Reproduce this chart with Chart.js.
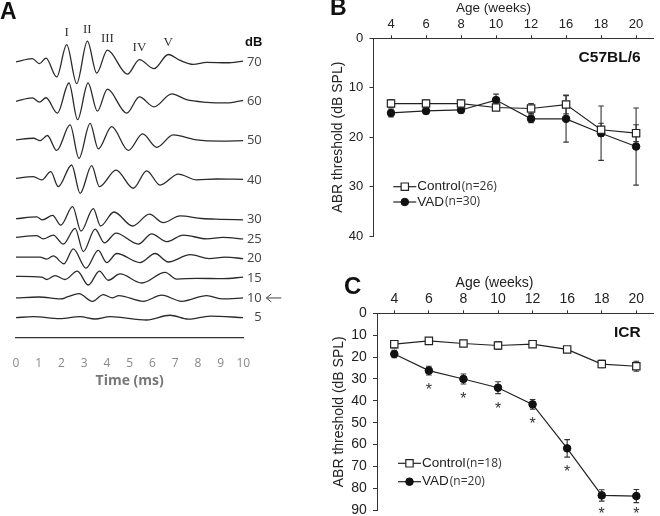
<!DOCTYPE html>
<html>
<head>
<meta charset="utf-8">
<script src="https://cdn.jsdelivr.net/npm/chart.js@4"></script>
<style>
  html, body { margin: 0; padding: 0; background: #fff; overflow: hidden; width: 660px; height: 516px; }
  canvas { position: absolute; }
  .tag { position: absolute; font: bold 23px 'Liberation Sans', Arial, sans-serif; line-height: 1; color: #111; }
</style>
</head>
<body>
<canvas id="chartA" width="290" height="400" style="left:0;top:0"></canvas>
<canvas id="chartB" width="330" height="250" style="left:330px;top:0"></canvas>
<canvas id="chartC" width="330" height="270" style="left:330px;top:255px"></canvas>
<div class="tag" style="left:0px;top:0px">A</div>
<div class="tag" style="left:330px;top:-4px">B</div>
<div class="tag" style="left:344px;top:274px;font-size:24px">C</div>

<script>
// ===== Data: panel A, ABR waveforms (time ms, amplitude around each level) =====
const levels = [70, 60, 50, 40, 30, 25, 20, 15, 10, 5];
const wave70 = [[0,0],[0.72,0.85],[1.03,-0.4],[1.32,1.0],[1.79,-3.8],[2.23,4.4],[2.67,-5.5],[3.14,5.3],[3.55,-2.8],[4.02,3.0],[4.9,-3.1],[5.43,0.6],[6.07,-1.7],[6.7,1.9],[7.22,0.4],[7.8,-0.6],[8.39,-0.1],[9.27,-0.2],[10,0.2]];
const wave60 = [[0,0],[0.72,0.85],[1.03,-0.2],[1.32,0.9],[1.82,-3.0],[2.33,4.65],[2.71,-4.65],[3.17,4.65],[3.58,-2.5],[4.02,3.1],[4.87,-3.0],[5.43,1.1],[6.07,-1.4],[6.85,1.9],[7.5,0.4],[8.39,-0.25],[9.27,-0.4],[10,0.25]];
const wave50 = [[0,0.2],[0.77,0.6],[1.06,0],[1.38,1.3],[1.79,-2.5],[2.38,4.0],[2.77,-4.5],[3.26,4.4],[3.62,-2.1],[4.21,3.55],[4.94,-2.5],[5.57,1.7],[6.19,-1.7],[6.92,1.45],[7.95,0.2],[9.0,-0.1],[10,0]];
const wave40 = [[0,0.4],[0.76,0.85],[1.13,0],[1.53,2.1],[1.86,-1.7],[2.45,3.8],[2.82,-3.4],[3.33,3.65],[3.67,-1.7],[4.4,2.5],[5.16,-2.1],[5.75,2.3],[6.34,-1.3],[7.14,1.5],[7.95,0],[8.83,0.25],[10,0.15]];
const wave30 = [[0,0.15],[0.91,0.6],[1.17,-0.15],[1.61,1.0],[1.97,-1.5],[2.49,3.2],[2.86,-3.0],[3.4,2.7],[3.72,-1.7],[4.31,1.85],[5.13,-1.7],[5.87,1.3],[6.48,-0.85],[7.22,0.85],[8.17,0.2],[9.0,0],[10,-0.15]];
const wave25 = [[0,0.4],[0.91,0.85],[1.2,0],[1.64,1.0],[2.08,-1.3],[2.6,2.7],[2.96,-3.2],[3.48,2.5],[3.89,-1.0],[4.4,1.5],[5.38,-1.3],[5.97,1.3],[6.63,-0.7],[7.36,1.0],[8.4,0],[9.1,0.4],[10,0]];
const wave20 = [[0,0.4],[1.06,0.4],[1.35,-0.15],[1.64,0.7],[2.11,-1.3],[2.52,2.5],[3.08,-2.4],[3.62,2.1],[3.99,-1.0],[4.43,1.3],[5.46,-1.0],[6.12,1.3],[6.7,-0.85],[7.66,1.0],[8.5,0],[9.2,0.4],[10,0]];
const wave15 = [[0,0.5],[1.13,0.3],[1.35,-0.3],[1.72,0.7],[2.15,-0.3],[2.7,1.8],[3.18,-1.7],[3.67,1.8],[4.06,-0.5],[4.58,1.1],[5.53,-1.2],[6.56,1.5],[7.07,-0.2],[7.95,0],[9.1,-0.1],[10,0.3]];
const wave10 = [[0,0],[1.0,0.25],[1.97,-0.25],[2.26,0.25],[2.77,1.1],[3.36,-0.85],[3.84,0.85],[4.24,0],[4.52,0.6],[5.6,-0.85],[6.41,0.7],[7.29,-0.85],[8.39,0.6],[9.1,-0.25],[10,0]];
const wave5 = [[0,0],[0.76,0.25],[1.93,-0.25],[2.82,0.25],[3.48,-0.35],[4.14,0.25],[5.75,-0.6],[6.77,0.6],[7.58,-0.4],[8.54,0.4],[10,0]];
const waves = [wave70, wave60, wave50, wave40, wave30, wave25, wave20, wave15, wave10, wave5];
const peakNames = ['I', 'II', 'III', 'IV', 'V'];
const peakIdx = [5, 7, 9, 11, 13];   // points of wave70 that carry the labels
const thresholdLevel = 10;

// ===== Data: panels B and C, ABR threshold by age =====
const weeks = ['4', '6', '8', '10', '12', '16', '18', '20'];
const b6Control = [13.2, 13.2, 13.2, 14.0, 14.2, 13.4, 18.5, 19.2];
const b6ControlErr = [0.8, 0.7, 0.7, 0.5, 1.0, 1.9, 1.3, 1.7];
const b6Vad = [15.1, 14.7, 14.5, 12.5, 16.3, 16.3, 19.2, 21.9];
const b6VadErr = [0.8, 0.6, 0.6, 1.2, 0.8, 4.7, 5.5, 7.8];
const b6Counts = [26, 30];

const icrControl = [14.1, 12.6, 13.8, 14.7, 14.1, 16.5, 23.2, 24.2];
const icrControlErr = [1.7, 0.8, 1.2, 1.8, 1.0, 1.2, 1.7, 2.3];
const icrVad = [18.6, 26.2, 30.0, 34.0, 41.6, 61.7, 83.2, 83.5];
const icrVadErr = [1.7, 2.0, 2.3, 2.7, 2.2, 4.0, 2.6, 3.0];
const icrSig = [false, true, true, true, true, true, true, true];
const icrCounts = [18, 20];

const SANS = "'Liberation Sans', Arial, sans-serif";

// ===== Plugins =====
const errorBars = {
  id: 'errorBars',
  beforeDatasetsDraw(chart) {
    const ctx = chart.ctx, y = chart.scales.y;
    chart.data.datasets.forEach((ds, i) => {
      if (!ds.errors) return;
      chart.getDatasetMeta(i).data.forEach((pt, j) => {
        const top = y.getPixelForValue(ds.data[j] - ds.errors[j]);
        const bot = y.getPixelForValue(ds.data[j] + ds.errors[j]);
        ctx.save();
        ctx.strokeStyle = '#333';
        ctx.lineWidth = 1.1;
        ctx.beginPath();
        ctx.moveTo(pt.x, top); ctx.lineTo(pt.x, bot);
        ctx.moveTo(pt.x - 2.8, top); ctx.lineTo(pt.x + 2.8, top);
        ctx.moveTo(pt.x - 2.8, bot); ctx.lineTo(pt.x + 2.8, bot);
        ctx.stroke();
        ctx.restore();
      });
    });
  },
  afterDatasetsDraw(chart) {
    const ctx = chart.ctx, y = chart.scales.y;
    chart.data.datasets.forEach((ds, i) => {
      if (!ds.stars) return;
      chart.getDatasetMeta(i).data.forEach((pt, j) => {
        if (!ds.stars[j]) return;
        let cy = y.getPixelForValue(ds.data[j] + ds.errors[j]) + 11;
        cy = Math.min(cy, y.bottom - 1);
        ctx.save();
        ctx.fillStyle = '#333';
        ctx.font = '16px ' + SANS;
        ctx.textAlign = 'center';
        ctx.textBaseline = 'alphabetic';
        ctx.fillText('*', pt.x, cy + 9.3);
        ctx.restore();
      });
    });
  }
};

function drawMarker(ctx, ds, x, y) {
  ctx.fillStyle = ds.pointBackgroundColor;
  ctx.strokeStyle = ds.pointBorderColor;
  ctx.lineWidth = ds.pointBorderWidth;
  ctx.beginPath();
  if (ds.pointStyle === 'rect') {
    const h = ds.pointRadius * Math.SQRT1_2;
    ctx.rect(x - h, y - h, 2 * h, 2 * h);
  } else {
    ctx.arc(x, y, ds.pointRadius, 0, Math.PI * 2);
  }
  ctx.fill();
  ctx.stroke();
}

const keyBox = {
  id: 'keyBox',
  afterDraw(chart, args, o) {
    if (!o.counts) return;
    const ctx = chart.ctx, a = chart.chartArea;
    chart.data.datasets.forEach((ds, i) => {
      const x = a.left + o.dx, y = a.top + o.dy + i * o.row;
      ctx.save();
      ctx.strokeStyle = ds.borderColor;
      ctx.lineWidth = ds.borderWidth;
      ctx.beginPath(); ctx.moveTo(x, y); ctx.lineTo(x + 23, y); ctx.stroke();
      drawMarker(ctx, ds, x + 11.5, y);
      ctx.fillStyle = '#222';
      ctx.textAlign = 'left';
      ctx.textBaseline = 'middle';
      ctx.font = '13.5px ' + SANS;
      ctx.fillText(ds.label, x + 24, y);
      const w = ctx.measureText(ds.label).width;
      ctx.font = "12px 'Open Sans', sans-serif";
      ctx.fillStyle = '#333';
      ctx.fillText('(n=' + o.counts[i] + ')', x + 25 + w, y);
      ctx.restore();
    });
    // strain name
    ctx.save();
    ctx.fillStyle = '#111';
    ctx.font = 'bold 15.5px ' + SANS;
    ctx.textAlign = 'right';
    ctx.textBaseline = 'middle';
    ctx.fillText(o.strain, a.right - 13, a.top + 19);
    ctx.restore();
  }
};

const waveLabels = {
  id: 'waveLabels',
  afterDatasetsDraw(chart) {
    if (chart.canvas.id !== 'chartA') return;
    const ctx = chart.ctx, xs = chart.scales.x, ys = chart.scales.y;
    const xr = xs.getPixelForValue(10);
    ctx.save();
    ctx.fillStyle = '#444';
    ctx.textAlign = 'right';
    ctx.textBaseline = 'middle';
    ctx.font = "13px 'Open Sans', sans-serif";
    levels.forEach(lv => ctx.fillText(String(lv), xr + 18.5, ys.getPixelForValue(lv)));
    ctx.fillStyle = '#111';
    ctx.font = 'bold 13px ' + SANS;
    ctx.fillText('dB', xr + 19, ys.getPixelForValue(levels[0]) - 20);
    // wave numbers over the 70 dB trace
    ctx.fillStyle = '#333';
    ctx.textAlign = 'center';
    ctx.font = "13px 'Liberation Serif', serif";
    peakIdx.forEach((k, i) => {
      const p = wave70[k];
      ctx.fillText(peakNames[i], xs.getPixelForValue(p[0]), ys.getPixelForValue(levels[0] + p[1]) - 12);
    });
    // threshold arrow
    const ay = ys.getPixelForValue(thresholdLevel), ax = xr + 23;
    ctx.strokeStyle = '#444';
    ctx.lineWidth = 1;
    ctx.beginPath();
    ctx.moveTo(ax + 15, ay); ctx.lineTo(ax, ay);
    ctx.moveTo(ax + 5, ay - 4); ctx.lineTo(ax, ay); ctx.lineTo(ax + 5, ay + 4);
    ctx.stroke();
    ctx.restore();
  }
};

Chart.register(errorBars, keyBox, waveLabels);

// ===== Panel A =====
new Chart(document.getElementById('chartA'), {
  type: 'line',
  data: {
    datasets: levels.map((lv, i) => ({
      label: lv + ' dB',
      data: waves[i].map(p => ({ x: p[0], y: lv + p[1] })),
      borderColor: '#2a2a2a',
      borderWidth: 1.3,
      pointRadius: 0,
      cubicInterpolationMode: 'monotone',
      fill: false
    }))
  },
  options: {
    responsive: false,
    animation: false,
    layout: { padding: { left: 16, right: 46.7, top: 30.5, bottom: 0 } },
    plugins: {
      legend: { display: false },
      tooltip: { enabled: false },
      title: {
        display: true, position: 'bottom', text: 'Time (ms)', color: '#777',
        font: { family: "'Open Sans', sans-serif", size: 14, weight: 'bold' },
        padding: { top: 0, bottom: 10.9 }
      }
    },
    scales: {
      x: {
        type: 'linear', min: 0, max: 10,
        ticks: { stepSize: 1, color: '#888', font: { family: "'Open Sans', sans-serif", size: 12 }, padding: 11.5 },
        grid: { display: false },
        border: { display: true, color: '#333', width: 1.3 },
        afterFit: s => { s.height = 35; }
      },
      y: { display: false, min: 0, max: 78 }
    }
  }
});

// ===== Panels B and C =====
function thresholdChart(id, p) {
  return new Chart(document.getElementById(id), {
    type: 'line',
    data: {
      labels: weeks,
      datasets: [{
        label: 'Control',
        data: p.control,
        errors: p.controlErr,
        borderColor: '#222',
        borderWidth: 1.2,
        pointStyle: 'rect',
        pointRadius: 5.2,
        pointBackgroundColor: '#fff',
        pointBorderColor: '#222',
        pointBorderWidth: 1.2,
        tension: 0
      }, {
        label: 'VAD',
        data: p.vad,
        errors: p.vadErr,
        stars: p.sig,
        borderColor: '#222',
        borderWidth: 1.2,
        pointStyle: 'circle',
        pointRadius: 3.8,
        pointBackgroundColor: '#111',
        pointBorderColor: '#111',
        pointBorderWidth: 1,
        tension: 0
      }]
    },
    options: {
      responsive: false,
      animation: false,
      layout: { padding: { left: 0, right: p.padRight, top: 0, bottom: p.padBottom } },
      plugins: {
        legend: { display: false },
        tooltip: { enabled: false },
        title: {
          display: true, text: 'Age (weeks)', color: '#222',
          font: { family: SANS, size: p.titleSize, weight: 'normal' },
          padding: { top: p.titleTop, bottom: 0 }
        },
        keyBox: { counts: p.counts, strain: p.strain, dx: p.keyDx, dy: p.keyDy, row: p.keyRow }
      },
      scales: {
        x: {
          type: 'category', position: 'top', offset: true,
          grid: { drawOnChartArea: false, tickLength: 3, color: '#333' },
          border: { color: '#333' },
          ticks: { color: '#222', font: { family: SANS, size: p.tickSize }, padding: p.xPad },
          afterFit: s => { s.height = p.xHeight; }
        },
        y: {
          min: 0, max: p.yMax, reverse: true,
          ticks: { stepSize: 10, color: '#222', font: { family: SANS, size: p.tickSize }, padding: p.yPad },
          grid: { drawOnChartArea: false, tickLength: 4, color: '#333' },
          border: { color: '#333' },
          title: {
            display: true, text: 'ABR threshold (dB SPL)', color: '#222',
            font: { family: SANS, size: 14 }, padding: { top: p.yTitleTop, bottom: 0 }
          },
          afterFit: s => { s.width = p.yWidth; }
        }
      }
    }
  });
}

thresholdChart('chartB', {
  control: b6Control, controlErr: b6ControlErr, vad: b6Vad, vadErr: b6VadErr, sig: null,
  counts: b6Counts, strain: 'C57BL/6', yMax: 40,
  padRight: 3, padBottom: 14, titleSize: 13.5, titleTop: 0, xHeight: 22.1, xPad: 3,
  tickSize: 13, yPad: 6.2, yWidth: 43.5, yTitleTop: 0,
  keyDx: 19.8, keyDy: 148.4, keyRow: 15.3
});

thresholdChart('chartC', {
  control: icrControl, controlErr: icrControlErr, vad: icrVad, vadErr: icrVadErr, sig: icrSig,
  counts: icrCounts, strain: 'ICR', yMax: 90,
  padRight: 1, padBottom: 13.3, titleSize: 14, titleTop: 20, xHeight: 21.5, xPad: 2.6,
  tickSize: 14, yPad: 6.3, yWidth: 47, yTitleTop: 0.6,
  keyDx: 21, keyDy: 150, keyRow: 18.4
});
</script>
</body>
</html>
